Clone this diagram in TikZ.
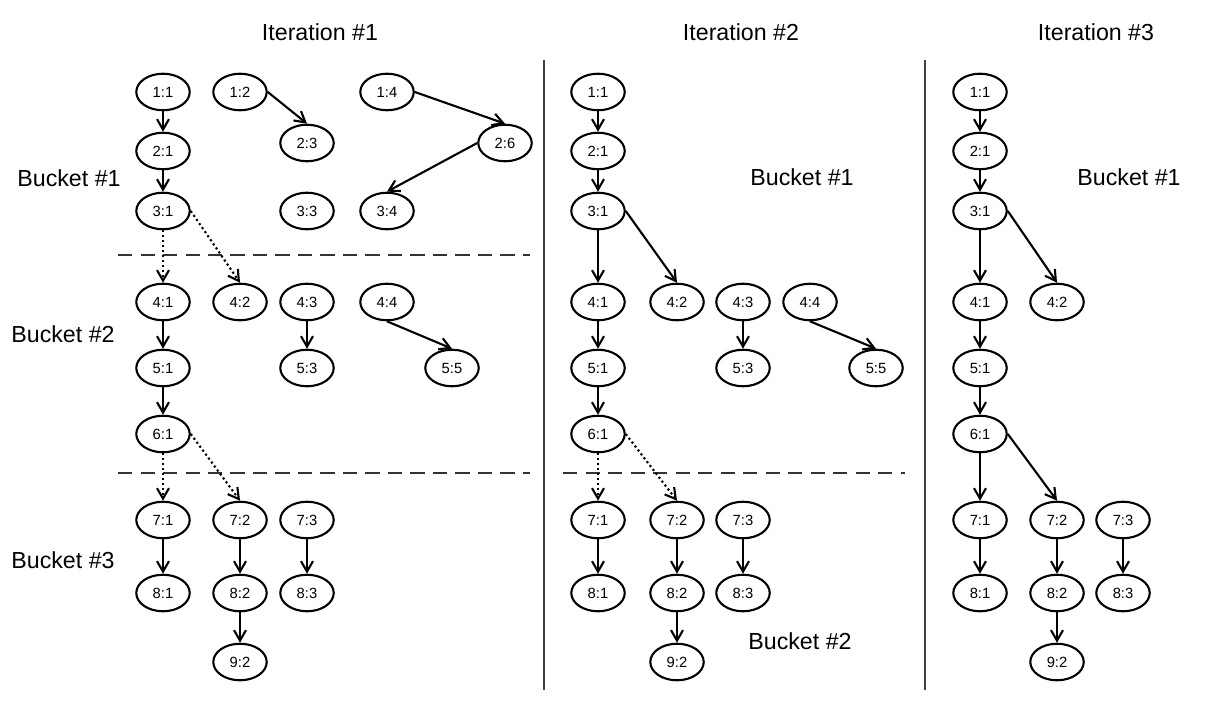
\documentclass[tikz,border=0pt]{standalone}
\usepackage{fontspec}
\setmainfont{Liberation Sans}
\usepackage{tikz}
\usetikzlibrary{shapes.geometric,arrows.meta}

\begin{document}
\begin{tikzpicture}[
  x=0.025cm, y=-0.025cm,
  >={Straight Barb[length=2.6mm,width=3mm]},
  bnode/.style={draw,ellipse,line width=1.5pt,minimum width=38pt,minimum height=26pt,inner sep=0pt,font=\fontsize{10.5}{12}\selectfont},
  blabel/.style={font=\fontsize{16.5}{19}\selectfont},
  link/.style={every edge/.style={draw,->,line width=1.5pt}},
  dlink/.style={every edge/.style={draw,->,line width=1.5pt,dotted}},
  split/.style={line width=1.6pt,dash pattern=on 10pt off 6pt,black!80},
  sep/.style={line width=1.8pt,black!75}]
\useasboundingbox (0,0) rectangle (1208,708);

% titles and bucket labels
\node[blabel] (it1) at (320,32) {Iteration \#1};
\node[blabel] (it2) at (741,32) {Iteration \#2};
\node[blabel] (it3) at (1096,32) {Iteration \#3};
\node[blabel] (lb1) at (69,178) {Bucket \#1};
\node[blabel] (lb2) at (63,334) {Bucket \#2};
\node[blabel] (lb3) at (63,560) {Bucket \#3};
\node[blabel] (mb1) at (802,177) {Bucket \#1};
\node[blabel] (mb2) at (800,641) {Bucket \#2};
\node[blabel] (rb1) at (1129,177) {Bucket \#1};

% separators
\coordinate (v1t) at (544,60); \coordinate (v1b) at (544,690);
\coordinate (v2t) at (925,60); \coordinate (v2b) at (925,690);
\draw[sep] (v1t) -- (v1b);
\draw[sep] (v2t) -- (v2b);
\coordinate (h1l) at (118,255); \coordinate (h1r) at (530,255);
\coordinate (h2l) at (118,473); \coordinate (h2r) at (530,473);
\coordinate (h3l) at (563,473); \coordinate (h3r) at (905,473);
\draw[split] (h1l) -- (h1r);
\draw[split] (h2l) -- (h2r);
\draw[split] (h3l) -- (h3r);

% iteration 1
\node[bnode] (a11) at (163,92) {1:1};
\node[bnode] (a12) at (240,92) {1:2};
\node[bnode] (a14) at (387,92) {1:4};
\node[bnode] (a21) at (163,151) {2:1};
\node[bnode] (a23) at (307,143) {2:3};
\node[bnode] (a26) at (505,143) {2:6};
\node[bnode] (a31) at (163,211) {3:1};
\node[bnode] (a33) at (307,211) {3:3};
\node[bnode] (a34) at (387,211) {3:4};
\node[bnode] (a41) at (163,302) {4:1};
\node[bnode] (a42) at (240,302) {4:2};
\node[bnode] (a43) at (307,302) {4:3};
\node[bnode] (a44) at (387,302) {4:4};
\node[bnode] (a51) at (163,368) {5:1};
\node[bnode] (a53) at (307,368) {5:3};
\node[bnode] (a55) at (452,368) {5:5};
\node[bnode] (a61) at (163,434) {6:1};
\node[bnode] (a71) at (163,520) {7:1};
\node[bnode] (a72) at (240,520) {7:2};
\node[bnode] (a73) at (307,520) {7:3};
\node[bnode] (a81) at (163,593) {8:1};
\node[bnode] (a82) at (240,593) {8:2};
\node[bnode] (a83) at (307,593) {8:3};
\node[bnode] (a92) at (240,662) {9:2};

\path[link]
  (a11) edge (a21)
  (a21) edge (a31)
  (a12.east) edge (a23.north)
  (a14.east) edge (a26.north)
  (a26.west) edge (a34.north)
  (a41) edge (a51)
  (a43) edge (a53)
  (a44.south) edge (a55.north)
  (a51) edge (a61)
  (a71) edge (a81)
  (a72) edge (a82)
  (a73) edge (a83)
  (a82) edge (a92);
\path[dlink]
  (a31) edge (a41)
  (a31.east) edge (a42.north)
  (a61) edge (a71)
  (a61.east) edge (a72.north);

% iteration 2
\node[bnode] (b11) at (598,92) {1:1};
\node[bnode] (b21) at (598,151) {2:1};
\node[bnode] (b31) at (598,211) {3:1};
\node[bnode] (b41) at (598,302) {4:1};
\node[bnode] (b42) at (677,302) {4:2};
\node[bnode] (b43) at (743,302) {4:3};
\node[bnode] (b44) at (810,302) {4:4};
\node[bnode] (b51) at (598,368) {5:1};
\node[bnode] (b53) at (743,368) {5:3};
\node[bnode] (b55) at (876,368) {5:5};
\node[bnode] (b61) at (598,434) {6:1};
\node[bnode] (b71) at (598,520) {7:1};
\node[bnode] (b72) at (677,520) {7:2};
\node[bnode] (b73) at (743,520) {7:3};
\node[bnode] (b81) at (598,593) {8:1};
\node[bnode] (b82) at (677,593) {8:2};
\node[bnode] (b83) at (743,593) {8:3};
\node[bnode] (b92) at (677,662) {9:2};

\path[link]
  (b11) edge (b21)
  (b21) edge (b31)
  (b31) edge (b41)
  (b31.east) edge (b42.north)
  (b41) edge (b51)
  (b43) edge (b53)
  (b44.south) edge (b55.north)
  (b51) edge (b61)
  (b71) edge (b81)
  (b72) edge (b82)
  (b73) edge (b83)
  (b82) edge (b92);
\path[dlink]
  (b61) edge (b71)
  (b61.east) edge (b72.north);

% iteration 3
\node[bnode] (c11) at (980,92) {1:1};
\node[bnode] (c21) at (980,151) {2:1};
\node[bnode] (c31) at (980,211) {3:1};
\node[bnode] (c41) at (980,302) {4:1};
\node[bnode] (c42) at (1057,302) {4:2};
\node[bnode] (c51) at (980,368) {5:1};
\node[bnode] (c61) at (980,434) {6:1};
\node[bnode] (c71) at (980,520) {7:1};
\node[bnode] (c72) at (1057,520) {7:2};
\node[bnode] (c73) at (1123,520) {7:3};
\node[bnode] (c81) at (980,593) {8:1};
\node[bnode] (c82) at (1057,593) {8:2};
\node[bnode] (c83) at (1123,593) {8:3};
\node[bnode] (c92) at (1057,662) {9:2};

\path[link]
  (c11) edge (c21)
  (c21) edge (c31)
  (c31) edge (c41)
  (c31.east) edge (c42.north)
  (c41) edge (c51)
  (c51) edge (c61)
  (c61) edge (c71)
  (c61.east) edge (c72.north)
  (c71) edge (c81)
  (c72) edge (c82)
  (c73) edge (c83)
  (c82) edge (c92);

\end{tikzpicture}
\end{document}
